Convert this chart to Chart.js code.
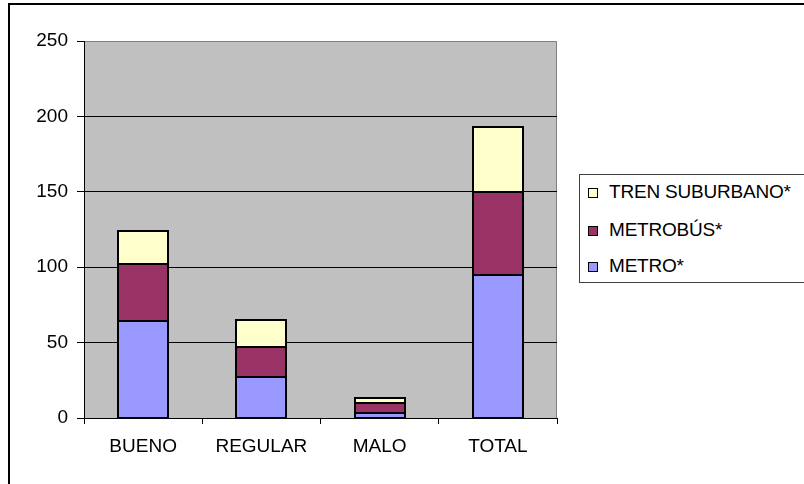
<!DOCTYPE html>
<html>
<head>
<meta charset="utf-8">
<script src="https://cdn.jsdelivr.net/npm/chart.js@4/dist/chart.umd.min.js"></script>
<style>
  html, body { margin: 0; padding: 0; background: #fff; }
  #wrap { position: relative; width: 804px; height: 484px; overflow: hidden; }
  #frame { position: absolute; left: 8px; top: 3px; width: 900px; height: 600px;
           border-left: 2px solid #000; border-top: 2px solid #000; pointer-events: none; }
  #legend { position: absolute; left: 579px; top: 174px; width: 260px; height: 107px;
            border: 1px solid #404040; background: #fff;
            font-family: "Liberation Sans", Arial, sans-serif; font-size: 19px; color: #000; }
  .item { position: absolute; left: 0; height: 20px; line-height: 20px; white-space: nowrap; }
  .swatch { position: absolute; left: 8px; top: 6px; width: 8px; height: 8px; border: 1px solid #000; }
  .label { position: absolute; left: 29px; top: 0; letter-spacing: -0.2px; }
  canvas { position: absolute; left: 0; top: 0; }
</style>
</head>
<body>
<div id="wrap">
  <canvas id="c" width="804" height="484"></canvas>
  <div id="frame"></div>
  <div id="legend"></div>
</div>
<script>
// Categories and series values
const categories = ['BUENO', 'REGULAR', 'MALO', 'TOTAL'];
const metro = [64, 27, 3, 95];
const metrobus = [38, 20, 7, 55];
const trenSuburbano = [22, 18, 3, 43];
const yTicks = [0, 50, 100, 150, 200, 250];

const FONT = { family: '"Liberation Sans", Arial, sans-serif', size: 19 };

// Gray plot background with a darker outline on top and right
const plotBackground = {
  id: 'plotBackground',
  beforeDraw(chart) {
    const { ctx, chartArea: a } = chart;
    ctx.save();
    ctx.fillStyle = '#C0C0C0';
    ctx.fillRect(a.left, a.top, a.right - a.left, a.bottom - a.top);
    ctx.strokeStyle = '#808080';
    ctx.lineWidth = 1;
    ctx.beginPath();
    ctx.moveTo(a.left, a.top + 0.5);
    ctx.lineTo(a.right - 0.5, a.top + 0.5);
    ctx.lineTo(a.right - 0.5, a.bottom);
    ctx.stroke();
    ctx.restore();
  }
};

// Outline each stacked segment with a single centred stroke so
// neighbouring segments share one dividing line
const segmentOutline = {
  id: 'segmentOutline',
  afterDatasetsDraw(chart) {
    const ctx = chart.ctx;
    ctx.save();
    ctx.strokeStyle = '#000';
    ctx.lineWidth = 2;
    chart.data.datasets.forEach((d, i) => {
      chart.getDatasetMeta(i).data.forEach(bar => {
        const p = bar.getProps(['x', 'y', 'base', 'width'], true);
        const left = Math.round(p.x - p.width / 2);
        const right = Math.round(p.x + p.width / 2);
        const top = Math.round(Math.min(p.y, p.base));
        const bottom = Math.round(Math.max(p.y, p.base));
        ctx.strokeRect(left, top, right - left, bottom - top);
      });
    });
    ctx.restore();
  }
};

const datasets = [
  { label: 'METRO*', data: metro, backgroundColor: '#9999FF' },
  { label: 'METROBÚS*', data: metrobus, backgroundColor: '#993366' },
  { label: 'TREN SUBURBANO*', data: trenSuburbano, backgroundColor: '#FFFFCC' }
].map(d => Object.assign(d, {
  borderWidth: 0,
  barPercentage: 0.423,
  categoryPercentage: 1
}));

const chart = new Chart(document.getElementById('c'), {
  type: 'bar',
  data: { labels: categories, datasets },
  options: {
    responsive: false,
    animation: false,
    devicePixelRatio: 1,
    layout: { padding: { left: 0, top: 41, right: 247, bottom: 0 } },
    plugins: { legend: { display: false }, tooltip: { enabled: false } },
    scales: {
      x: {
        stacked: true,
        offset: true,
        grid: { offset: true, drawOnChartArea: false, tickLength: 6, tickColor: '#000', tickWidth: 1 },
        border: { color: '#000', width: 1 },
        ticks: { color: '#000', font: FONT, padding: 11, maxRotation: 0 },
        afterFit(s) { s.height = 66; }
      },
      y: {
        stacked: true,
        min: 0,
        max: 250,
        afterBuildTicks(s) { s.ticks = yTicks.map(v => ({ value: v })); },
        grid: {
          color: c => (c.tick && c.tick.value === 250) ? 'rgba(0,0,0,0)' : '#000',
          lineWidth: 1,
          tickLength: 7,
          tickColor: '#000'
        },
        border: { color: '#000', width: 1 },
        ticks: { color: '#000', font: FONT, padding: 9 },
        afterFit(s) { s.width = 84; }
      }
    }
  },
  plugins: [plotBackground, segmentOutline]
});

// Legend built from the datasets, top series first
const legend = document.getElementById('legend');
const rowTops = [7, 45, 81];
datasets.slice().reverse().forEach((d, i) => {
  const item = document.createElement('div');
  item.className = 'item';
  item.style.top = rowTops[i] + 'px';
  const sw = document.createElement('span');
  sw.className = 'swatch';
  sw.style.background = d.backgroundColor;
  const lb = document.createElement('span');
  lb.className = 'label';
  lb.textContent = d.label;
  item.appendChild(sw);
  item.appendChild(lb);
  legend.appendChild(item);
});
</script>
</body>
</html>
